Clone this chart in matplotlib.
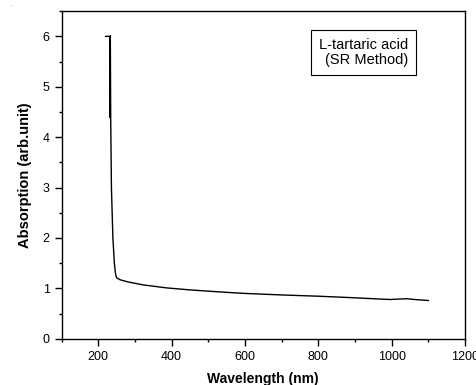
import matplotlib.pyplot as plt

plt.rcParams['font.family'] = ['Liberation Sans', 'DejaVu Sans']

# spectrum
wavelength = [220, 232, 232, 233, 232, 233, 232, 233, 234, 236, 240, 244, 247, 250,
              260, 280, 322, 386, 450, 531, 600, 700, 800, 880, 950, 995, 1040, 1070, 1100]
absorption = [6.0, 6.0, 4.4, 6.0, 4.4, 6.0, 4.4, 6.0, 4.4, 3.0, 2.0, 1.5, 1.3, 1.21,
              1.17, 1.13, 1.07, 1.01, 0.97, 0.93, 0.90, 0.87, 0.845, 0.82, 0.795, 0.78, 0.795, 0.775, 0.76]

xticks = [200, 400, 600, 800, 1000, 1200]
yticks = [0, 1, 2, 3, 4, 5, 6]

fig = plt.figure(figsize=(4.77, 3.85), dpi=100)
ax = fig.add_axes([0.129, 0.12, 0.846, 0.851])

ax.plot(wavelength, absorption, color='black', lw=1.0)

ax.set_xlim(100, 1200)
ax.set_ylim(0, 6.5)
ax.set_xticks(xticks)
ax.set_yticks(yticks)
ax.set_xticks(range(100, 1201, 100), minor=True)
ax.set_yticks([i * 0.5 for i in range(14)], minor=True)
ax.tick_params(which='major', direction='out', length=5, width=1, labelsize=9, top=False, right=False)
ax.tick_params(which='minor', direction='out', length=2.5, width=1, top=False, right=False)
for s in ax.spines.values():
    s.set_linewidth(1.0)

ax.set_xlabel('Wavelength (nm)', fontsize=10, fontweight='bold', labelpad=7)
ax.set_ylabel('Absorption (arb.unit)', fontsize=10.5, fontweight='bold', labelpad=8)

# legend-like box
ax.text(0.859, 0.918, 'L-tartaric acid\n(SR Method)', transform=ax.transAxes,
        fontsize=10.5, ha='right', va='top', multialignment='right', linespacing=1.05,
        bbox=dict(boxstyle='square,pad=0.55', facecolor='white', edgecolor='black', linewidth=0.8))

fig.text(0.02, 0.985, '.', fontsize=6, color='gray')

fig.savefig('out.png', dpi=100)
